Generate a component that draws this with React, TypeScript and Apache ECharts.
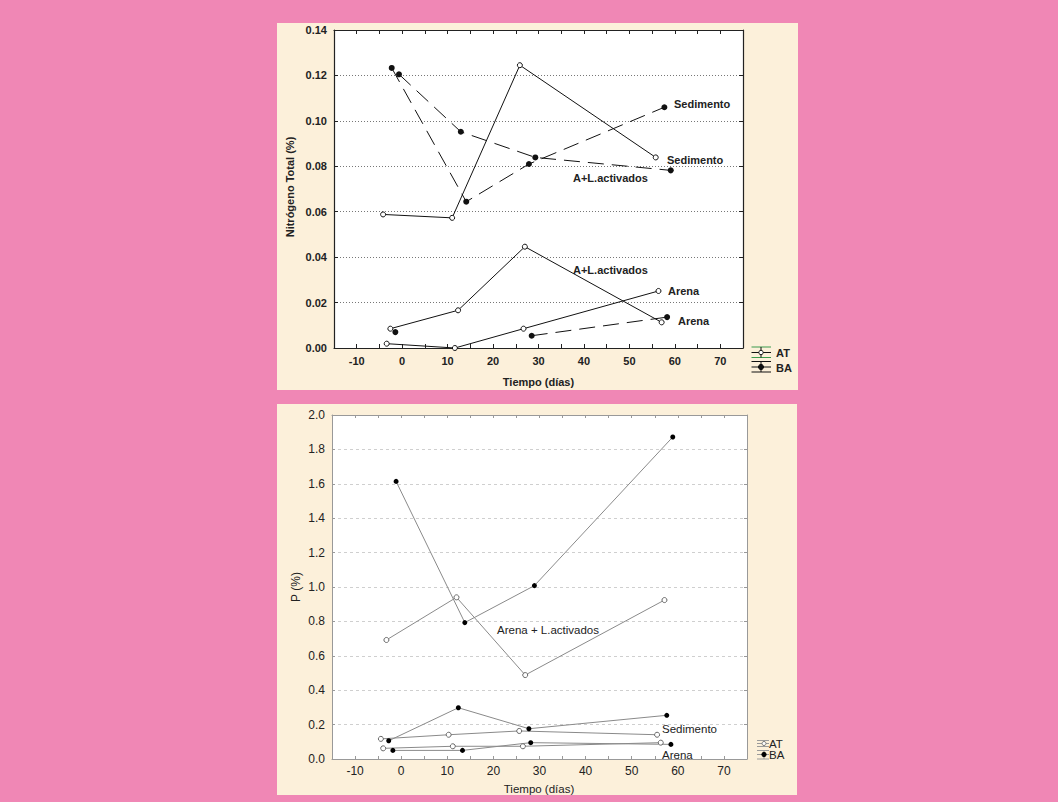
import React, { useEffect, useRef } from "react";
import * as echarts from "echarts";

// ---------- data: Nitrógeno Total (%) ----------
const xTickLabels = [-10, 0, 10, 20, 30, 40, 50, 60, 70];

const nAtSedX = [-4.2, 11.0, 25.9, 55.8];
const nAtSedY = [0.0588, 0.0573, 0.1245, 0.0839];
const nBaSedX = [-2.3, 14.1, 27.9, 57.7];
const nBaSedY = [0.1233, 0.0644, 0.081, 0.106];
const nAtALX = [-2.6, 12.3, 27.0, 57.1];
const nAtALY = [0.0085, 0.0166, 0.0446, 0.0113];
const nBaALX = [-0.7, 12.9, 29.3, 59.1];
const nBaALY = [0.1205, 0.0952, 0.0839, 0.0782];
const nAtArX = [-3.4, 11.6, 26.7, 56.4];
const nAtArY = [0.0019, 0.0, 0.0085, 0.0251];
const nBaArX = [-1.5, 13.5, 28.5, 58.3];
const nBaArY: (number | null)[] = [0.007, null, 0.0054, 0.0136];

// ---------- data: P (%) ----------
const pAtALX = [-3.2, 12.0, 26.9, 57.1];
const pAtALY = [0.692, 0.94, 0.488, 0.924];
const pBaALX = [-1.1, 13.8, 28.9, 58.9];
const pBaALY = [1.614, 0.793, 1.008, 1.872];
const pAtSedX = [-4.4, 10.3, 25.6, 55.5];
const pAtSedY = [0.117, 0.141, 0.163, 0.141];
const pBaSedX = [-2.7, 12.4, 27.7, 57.6];
const pBaSedY = [0.106, 0.298, 0.176, 0.254];
const pAtArX = [-3.9, 11.2, 26.4, 56.3];
const pAtArY = [0.062, 0.074, 0.074, 0.095];
const pBaArX = [-1.8, 13.3, 28.1, 58.5];
const pBaArY = [0.05, 0.05, 0.095, 0.085];

const PINK = "#F087B5";
const CREAM = "#FCF0DA";
const FONT = "'Liberation Sans', Arial, sans-serif";
const TXT = "#222";

function pts(xs: number[], ys: (number | null)[]) {
  return xs.map((x, i) => [x, ys[i] === null ? "-" : ys[i]]);
}

const xFmt = (v: number) => (xTickLabels.includes(Math.round(v)) && Math.abs(v - Math.round(v)) < 1e-6 ? String(Math.round(v)) : "");

export default function App() {
  const ref = useRef<HTMLDivElement>(null);
  useEffect(() => {
    document.body.style.margin = "0";
    if (!ref.current) return;
    const chart = echarts.init(ref.current, undefined, { renderer: "svg" });

    const topAxisLine = { onZero: false, lineStyle: { color: "#222", width: 1.2 } };
    const topTick = { inside: true, length: 4, lineStyle: { color: "#222" } };
    const botAxisLine = { onZero: false, lineStyle: { color: "#999", width: 1 } };
    const botTick = { inside: true, length: 3, lineStyle: { color: "#999" } };

    const xBase = { type: "value", min: -15, max: 75, interval: 5 };
    const topLbl = { fontSize: 11, fontWeight: "bold", color: TXT, fontFamily: FONT };
    const botLbl = { fontSize: 12, color: TXT, fontFamily: FONT };

    const topLine = (xs: number[], ys: (number | null)[], at: boolean) => ({
      type: "line",
      xAxisIndex: 0,
      yAxisIndex: 0,
      data: pts(xs, ys),
      symbol: "circle",
      symbolSize: at ? 5 : 6,
      itemStyle: at ? { color: "#fff", borderColor: "#111", borderWidth: 1 } : { color: "#111", borderColor: "#111", borderWidth: 0 },
      lineStyle: { color: "#111", width: 1, type: at ? "solid" : [16, 8] },
      connectNulls: false,
      silent: true,
    });
    const botLine = (xs: number[], ys: number[], at: boolean) => ({
      type: "line",
      xAxisIndex: 2,
      yAxisIndex: 2,
      data: pts(xs, ys),
      symbol: "circle",
      symbolSize: 5,
      itemStyle: at ? { color: "#fff", borderColor: "#666", borderWidth: 1 } : { color: "#000", borderColor: "#000", borderWidth: 0 },
      lineStyle: { color: "#8a8a8a", width: 1 },
      silent: true,
    });

    const tText = (text: string, x: number, y: number, bold: boolean, size: number) => ({
      type: "text",
      x,
      y,
      z: 100,
      style: {
        text,
        fill: TXT,
        font: `${bold ? "bold " : ""}${size}px ${FONT}`,
        textAlign: "left",
        textVerticalAlign: "middle",
      },
    });

    const gLine = (x1: number, y1: number, x2: number, y2: number, color: string, w = 1) => ({
      type: "line",
      z: 100,
      shape: { x1, y1, x2, y2 },
      style: { stroke: color, lineWidth: w },
    });
    const gCircle = (cx: number, cy: number, r: number, fill: string, stroke: string) => ({
      type: "circle",
      z: 101,
      shape: { cx, cy, r },
      style: { fill, stroke, lineWidth: 1 },
    });

    const GREEN = "#3b9a4c";
    const LG = "#9a9a9a";

    const option: any = {
      animation: false,
      backgroundColor: "transparent",
      grid: [
        { left: 334, top: 30, width: 409, height: 318, show: true, backgroundColor: "#fff", borderWidth: 0 },
        { left: 332, top: 415, width: 415, height: 344, show: true, backgroundColor: "#fff", borderWidth: 0 },
      ],
      xAxis: [
        { ...xBase, gridIndex: 0, axisLine: topAxisLine, axisTick: topTick, axisLabel: { ...topLbl, margin: 7, formatter: xFmt }, splitLine: { show: false } },
        { ...xBase, gridIndex: 0, position: "top", axisLine: topAxisLine, axisTick: topTick, axisLabel: { show: false }, splitLine: { show: false } },
        { ...xBase, gridIndex: 1, axisLine: botAxisLine, axisTick: botTick, axisLabel: { ...botLbl, margin: 6, formatter: xFmt }, splitLine: { show: false } },
        { ...xBase, gridIndex: 1, position: "top", axisLine: botAxisLine, axisTick: botTick, axisLabel: { show: false }, splitLine: { show: false } },
      ],
      yAxis: [
        {
          type: "value", gridIndex: 0, min: 0, max: 0.14, interval: 0.02,
          axisLine: topAxisLine, axisTick: topTick,
          axisLabel: { ...topLbl, margin: 7, formatter: (v: number) => v.toFixed(2) },
          splitLine: { show: true, lineStyle: { color: "#777", width: 1, type: [1, 2] } },
        },
        { type: "value", gridIndex: 0, position: "right", min: 0, max: 0.14, interval: 0.02, axisLine: topAxisLine, axisTick: topTick, axisLabel: { show: false }, splitLine: { show: false } },
        {
          type: "value", gridIndex: 1, min: 0, max: 2.0, interval: 0.2,
          axisLine: botAxisLine, axisTick: botTick,
          axisLabel: { ...botLbl, margin: 7, formatter: (v: number) => v.toFixed(1) },
          splitLine: { show: true, lineStyle: { color: "#cfcfcf", width: 1, type: [3, 3] } },
        },
        { type: "value", gridIndex: 1, position: "right", min: 0, max: 2.0, interval: 0.2, axisLine: botAxisLine, axisTick: botTick, axisLabel: { show: false }, splitLine: { show: false } },
      ],
      series: [
        topLine(nAtSedX, nAtSedY, true),
        topLine(nBaSedX, nBaSedY, false),
        topLine(nAtALX, nAtALY, true),
        topLine(nBaALX, nBaALY, false),
        topLine(nAtArX, nAtArY, true),
        topLine(nBaArX, nBaArY, false),
        botLine(pAtALX, pAtALY, true),
        botLine(pBaALX, pBaALY, false),
        botLine(pAtSedX, pAtSedY, true),
        botLine(pBaSedX, pBaSedY, false),
        botLine(pAtArX, pAtArY, true),
        botLine(pBaArX, pBaArY, false),
      ],
      graphic: [
        // top chart annotations
        tText("Sedimento", 674, 104, true, 11),
        tText("Sedimento", 667, 160, true, 11),
        tText("A+L.activados", 573, 177.5, true, 11),
        tText("A+L.activados", 573, 269.5, true, 11),
        tText("Arena", 668, 291, true, 11),
        tText("Arena", 678, 321, true, 11),
        // top titles
        { type: "text", x: 538.5, y: 381.5, z: 100, style: { text: "Tiempo (días)", fill: TXT, font: `bold 11px ${FONT}`, textAlign: "center", textVerticalAlign: "middle" } },
        { type: "text", x: 290, y: 187, rotation: Math.PI / 2, z: 100, style: { text: "Nitrógeno Total (%)", fill: TXT, font: `bold 11px ${FONT}`, textAlign: "center", textVerticalAlign: "middle" } },
        // top legend
        gLine(751.5, 347, 771, 347, GREEN),
        gLine(751.5, 352.5, 771, 352.5, "#111"),
        gLine(751.5, 357.5, 771, 357.5, GREEN),
        gLine(761, 347, 761, 357.5, "#111"),
        gCircle(761, 352.5, 2.2, "#fff", "#111"),
        gLine(751.5, 361.5, 771, 361.5, "#111"),
        gLine(751.5, 367, 771, 367, "#111"),
        gLine(751.5, 372, 771, 372, "#111"),
        gLine(761, 361.5, 761, 372, "#111"),
        gCircle(761, 367, 2.6, "#111", "#111"),
        tText("AT", 776, 352.5, true, 11),
        tText("BA", 776, 367.5, true, 11),
        // bottom annotations
        tText("Arena + L.activados", 497, 630, false, 11.5),
        tText("Sedimento", 662, 728.5, false, 11.5),
        tText("Arena", 662, 754.5, false, 11.5),
        // bottom titles
        { type: "text", x: 539, y: 788.5, z: 100, style: { text: "Tiempo (días)", fill: TXT, font: `11.5px ${FONT}`, textAlign: "center", textVerticalAlign: "middle" } },
        { type: "text", x: 296, y: 587, rotation: Math.PI / 2, z: 100, style: { text: "P (%)", fill: TXT, font: `12px ${FONT}`, textAlign: "center", textVerticalAlign: "middle" } },
        // bottom legend
        gLine(757, 740.5, 769, 740.5, LG),
        gLine(757, 743.5, 769, 743.5, LG),
        gLine(757, 746.5, 769, 746.5, LG),
        gLine(764, 740.5, 764, 746.5, LG),
        gCircle(764, 743.5, 2, "#fff", "#777"),
        gLine(757, 750.5, 769, 750.5, LG),
        gLine(757, 754.5, 769, 754.5, LG),
        gLine(757, 759, 769, 759, LG),
        gLine(764, 750.5, 764, 759, LG),
        gCircle(764, 754.5, 2.2, "#000", "#000"),
        tText("AT", 769, 743.5, false, 11.5),
        tText("BA", 769, 755, false, 11.5),
      ],
    };
    chart.setOption(option);
    return () => chart.dispose();
  }, []);

  return (
    <div style={{ position: "relative", width: 1058, height: 802, background: PINK, overflow: "hidden" }}>
      <div style={{ position: "absolute", left: 277, top: 23, width: 521, height: 367, background: CREAM }} />
      <div style={{ position: "absolute", left: 277, top: 404, width: 520, height: 391, background: CREAM }} />
      <div ref={ref} style={{ position: "absolute", left: 0, top: 0, width: 1058, height: 802 }} />
    </div>
  );
}
